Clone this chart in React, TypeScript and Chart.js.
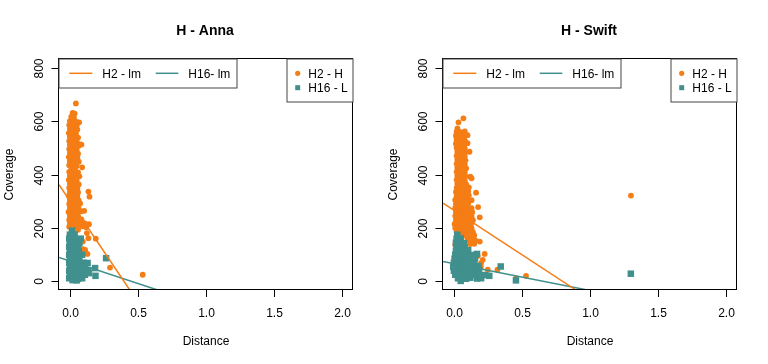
import React, { useEffect, useRef } from "react";
import { Chart, registerables } from "chart.js";
Chart.register(...registerables);

const ORANGE = "#F57D15";
const TEAL = "#40908E";
const FONT = '"Liberation Sans", Arial, Helvetica, sans-serif';

const xTicks = [0, 0.5, 1, 1.5, 2];
const xTickLabels = ["0.0", "0.5", "1.0", "1.5", "2.0"];
const yTicks = [0, 200, 400, 600, 800];
const yTickLabels = ["0", "200", "400", "600", "800"];
const panelTitles = ["H - Anna", "H - Swift"];
const lineLegendLabels = ["H2 - lm", "H16- lm"];
const pointLegendLabels = ["H2 - H", "H16 - L"];

// H - Anna : H2 - H points
const annaH2 = [
  [0.044, 666], [0.068, 595], [0.075, 513],
  [0.02, 630], [0.035, 628],
  [0.01, 615], [0.03, 612],
  [0.0, 600], [0.025, 602], [0.045, 598],
  [-0.005, 585], [0.02, 586], [0.05, 583],
  [0.0, 570], [0.03, 571], [0.055, 568],
  [-0.008, 555], [0.02, 556], [0.045, 553],
  [0.0, 540], [0.03, 541], [0.06, 538],
  [-0.005, 525], [0.025, 527], [0.05, 523],
  [0.0, 510], [0.03, 511], [0.065, 508], [0.085, 512],
  [-0.005, 495], [0.02, 496], [0.05, 493],
  [0.0, 480], [0.035, 481], [0.06, 478],
  [-0.008, 465], [0.025, 466], [0.055, 463],
  [0.0, 450], [0.03, 451], [0.065, 448],
  [-0.005, 435], [0.02, 437], [0.05, 433],
  [0.01, 425], [0.04, 424], [0.09, 427],
  [-0.005, 410], [0.025, 412], [0.06, 408],
  [0.0, 395], [0.035, 396], [0.07, 393],
  [-0.008, 380], [0.02, 381], [0.05, 378],
  [0.0, 365], [0.03, 366], [0.065, 363],
  [-0.005, 350], [0.02, 352], [0.055, 348],
  [0.0, 335], [0.035, 336], [0.06, 333],
  [-0.008, 320], [0.025, 321], [0.055, 318],
  [0.0, 305], [0.03, 306], [0.065, 303],
  [-0.005, 290], [0.02, 291], [0.05, 288], [0.075, 292],
  [0.0, 275], [0.035, 276], [0.065, 273],
  [-0.01, 260], [0.02, 261], [0.05, 258], [0.08, 262],
  [0.0, 245], [0.03, 246], [0.06, 243],
  [-0.005, 230], [0.025, 231], [0.055, 228], [0.085, 232],
  [0.0, 215], [0.03, 216], [0.07, 213], [0.11, 217], [0.14, 214],
  [-0.005, 205], [0.04, 204], [0.09, 206], [0.12, 203],
  [0.02, 195], [0.06, 193],
  [0.136, 336], [0.144, 317], [0.105, 264], [0.125, 181], [0.19, 160], [0.129, 103],
  [0.095, 121], [0.295, 52], [0.535, 25], [0.095, 149], [0.112, 118], [0.136, 162], [0.1, 218],
  [0.02, 180], [0.05, 150], [0.03, 100], [0.04, 60], [0.02, 30],
];

// H - Anna : H16 - L points
const annaH16 = [
  [0.015, 190],
  [0.0, 175], [0.035, 176],
  [-0.005, 160], [0.03, 161], [0.06, 158], [0.08, 160],
  [0.0, 145], [0.035, 146], [0.07, 143],
  [-0.005, 130], [0.03, 131], [0.06, 128],
  [0.0, 115], [0.035, 116], [0.065, 113],
  [-0.005, 100], [0.03, 101], [0.06, 98], [0.09, 100],
  [0.0, 85], [0.035, 86], [0.07, 83],
  [-0.005, 70], [0.03, 71], [0.065, 68], [0.1, 70], [0.13, 69],
  [0.0, 55], [0.035, 56], [0.07, 53], [0.105, 55],
  [-0.005, 40], [0.03, 41], [0.065, 38], [0.1, 40], [0.135, 42],
  [0.0, 25], [0.035, 26], [0.07, 23], [0.11, 25], [0.14, 31],
  [-0.005, 12], [0.03, 13], [0.06, 10], [0.09, 12],
  [0.02, 5], [0.05, 4],
  [0.266, 87], [0.185, 50], [0.188, 21],
];

// H - Swift : H2 - H points
const swiftH2 = [
  [0.07, 610], [0.034, 595], [0.026, 572],
  [0.02, 560], [0.05, 558], [0.08, 561],
  [0.015, 545], [0.045, 546], [0.075, 543], [0.1, 547],
  [0.02, 530], [0.05, 531], [0.08, 528],
  [0.015, 515], [0.045, 516], [0.075, 513], [0.1, 517],
  [0.02, 500], [0.05, 501], [0.08, 498],
  [0.025, 485], [0.055, 486], [0.085, 483], [0.115, 485],
  [0.02, 470], [0.05, 471], [0.08, 468],
  [0.025, 455], [0.055, 456], [0.085, 453],
  [0.02, 440], [0.05, 441], [0.08, 438],
  [0.025, 425], [0.055, 426], [0.09, 423],
  [0.02, 410], [0.05, 411], [0.08, 408],
  [0.025, 395], [0.055, 396], [0.085, 393], [0.12, 392],
  [0.02, 380], [0.05, 381], [0.08, 378], [0.13, 386],
  [0.025, 365], [0.055, 366], [0.09, 363],
  [0.02, 350], [0.05, 351], [0.08, 348], [0.11, 352],
  [0.015, 335], [0.045, 336], [0.075, 333], [0.105, 337], [0.163, 332],
  [0.02, 320], [0.05, 321], [0.08, 318], [0.11, 322],
  [0.01, 305], [0.04, 306], [0.07, 303], [0.1, 307], [0.13, 304],
  [0.015, 290], [0.045, 291], [0.075, 288], [0.105, 292],
  [0.01, 275], [0.04, 276], [0.07, 273], [0.1, 277], [0.13, 274], [0.178, 278],
  [0.015, 260], [0.045, 261], [0.075, 258], [0.105, 262], [0.135, 259],
  [0.01, 245], [0.04, 246], [0.07, 243], [0.1, 247], [0.13, 244], [0.19, 240],
  [0.015, 230], [0.045, 231], [0.075, 228], [0.105, 232], [0.14, 229],
  [0.005, 215], [0.035, 216], [0.065, 213], [0.095, 217], [0.125, 214],
  [0.01, 200], [0.04, 201], [0.07, 198], [0.1, 202], [0.13, 199],
  [0.02, 185], [0.05, 186], [0.08, 183], [0.11, 187], [0.14, 184],
  [0.06, 170], [0.09, 171], [0.12, 168], [0.15, 172],
  [0.1, 155], [0.13, 156], [0.16, 153],
  [0.12, 140], [0.15, 141], [0.19, 149],
  [0.01, 137], [0.226, 103], [0.212, 81], [0.2, 69], [0.249, 44], [0.32, 44],
  [0.456, 11], [0.53, 21], [1.301, 321], [0.198, 54], [0.175, 95],
];

// H - Swift : H16 - L points
const swiftH16 = [
  [0.025, 175],
  [0.02, 160], [0.05, 161],
  [0.015, 145], [0.045, 146], [0.075, 143],
  [0.02, 130], [0.05, 131], [0.08, 128],
  [0.015, 115], [0.045, 116], [0.075, 113], [0.105, 117],
  [0.01, 100], [0.04, 101], [0.07, 98], [0.1, 102], [0.13, 99], [0.17, 103],
  [0.005, 85], [0.035, 86], [0.065, 83], [0.095, 87], [0.125, 84], [0.155, 86],
  [0.0, 70], [0.03, 71], [0.06, 68], [0.09, 72], [0.12, 69], [0.15, 71],
  [-0.005, 55], [0.025, 56], [0.055, 53], [0.085, 57], [0.115, 54], [0.145, 56], [0.18, 58],
  [0.0, 40], [0.03, 41], [0.06, 38], [0.09, 42], [0.12, 39], [0.15, 41], [0.185, 43],
  [0.01, 25], [0.04, 26], [0.07, 23], [0.1, 27], [0.13, 24], [0.16, 26], [0.2, 22], [0.23, 24], [0.26, 21],
  [0.03, 12], [0.06, 13], [0.09, 10], [0.12, 14], [0.17, 11], [0.2, 12],
  [0.05, 2],
  [0.344, 56], [0.456, 4], [1.3, 29],
];

// Regression lines, endpoints (clipped by plot area)
const annaH2Line = [[-0.08, 362], [0.44, -32]];
const annaH16Line = [[-0.08, 90], [0.65, -33]];
const swiftH2Line = [[-0.08, 293], [0.9, -33]];
const swiftH16Line = [[-0.08, 75], [0.99, -33]];

const toXY = (arr: number[][]) => arr.map(([x, y]) => ({ x, y }));

function makePlugin(title: string) {
  return {
    id: "rbase",
    afterDatasetsDraw(chart: any) {
      const ctx = chart.ctx as CanvasRenderingContext2D;
      const { left, right, top, bottom } = chart.chartArea;
      const xs = chart.scales.x;
      const ys = chart.scales.y;
      ctx.save();
      ctx.strokeStyle = "#000";
      ctx.fillStyle = "#000";
      ctx.lineWidth = 1;
      // plot box
      ctx.strokeRect(left - 0.5, top - 0.5, right - left, bottom - top);
      // x axis ticks
      ctx.font = `12px ${FONT}`;
      ctx.textAlign = "center";
      ctx.textBaseline = "alphabetic";
      xTicks.forEach((v, i) => {
        const px = Math.round(xs.getPixelForValue(v)) + 0.5;
        ctx.beginPath();
        ctx.moveTo(px, bottom - 0.5);
        ctx.lineTo(px, bottom + 7);
        ctx.stroke();
        ctx.fillText(xTickLabels[i], px, bottom + 26.5);
      });
      // y axis ticks
      yTicks.forEach((v, i) => {
        const py = Math.round(ys.getPixelForValue(v)) + 0.5;
        ctx.beginPath();
        ctx.moveTo(left - 0.5, py);
        ctx.lineTo(left - 7.5, py);
        ctx.stroke();
        ctx.save();
        ctx.translate(left - 16.3, py);
        ctx.rotate(-Math.PI / 2);
        ctx.fillText(yTickLabels[i], 0, 0);
        ctx.restore();
      });
      // axis titles
      ctx.fillText("Distance", (left + right) / 2, bottom + 55);
      ctx.save();
      ctx.translate(13, (top + bottom) / 2);
      ctx.rotate(-Math.PI / 2);
      ctx.fillText("Coverage", 0, 0);
      ctx.restore();
      // main title
      ctx.font = `bold 14px ${FONT}`;
      ctx.fillText(title, (left + right) / 2 - 1, 35);

      // legend 1 (lines)
      ctx.font = `12px ${FONT}`;
      ctx.textAlign = "left";
      const l1x = left, l1y = top, l1w = 178, l1h = 29;
      ctx.fillStyle = "#fff";
      ctx.fillRect(l1x, l1y, l1w, l1h);
      ctx.strokeStyle = "#444";
      ctx.strokeRect(l1x, l1y, l1w, l1h);
      ctx.lineWidth = 1.5;
      ctx.strokeStyle = ORANGE;
      ctx.beginPath();
      ctx.moveTo(l1x + 10.3, l1y + 14.3);
      ctx.lineTo(l1x + 33.3, l1y + 14.3);
      ctx.stroke();
      ctx.strokeStyle = TEAL;
      ctx.beginPath();
      ctx.moveTo(l1x + 96.7, l1y + 14.3);
      ctx.lineTo(l1x + 119.3, l1y + 14.3);
      ctx.stroke();
      ctx.fillStyle = "#000";
      ctx.fillText(lineLegendLabels[0], l1x + 43.3, l1y + 19);
      ctx.fillText(lineLegendLabels[1], l1x + 129.3, l1y + 19);

      // legend 2 (points)
      ctx.lineWidth = 1;
      const l2w = 66, l2h = 43;
      const l2x = right - l2w, l2y = top;
      ctx.fillStyle = "#fff";
      ctx.fillRect(l2x, l2y, l2w, l2h);
      ctx.strokeStyle = "#444";
      ctx.strokeRect(l2x, l2y, l2w, l2h);
      ctx.fillStyle = ORANGE;
      ctx.beginPath();
      ctx.arc(l2x + 10.7, l2y + 14.3, 2.6, 0, Math.PI * 2);
      ctx.fill();
      ctx.fillStyle = TEAL;
      ctx.fillRect(l2x + 10.7 - 2.5, l2y + 28.7 - 2.5, 5, 5);
      ctx.fillStyle = "#000";
      ctx.fillText(pointLegendLabels[0], l2x + 21.3, l2y + 18.6);
      ctx.fillText(pointLegendLabels[1], l2x + 21.3, l2y + 33);
      ctx.restore();
    },
  };
}

function Panel({ title, h2, h16, h2Line, h16Line }: any) {
  const ref = useRef<HTMLCanvasElement>(null);
  useEffect(() => {
    if (!ref.current) return;
    const chart = new Chart(ref.current, {
      type: "scatter",
      data: {
        datasets: [
          {
            label: lineLegendLabels[0],
            data: toXY(h2Line),
            showLine: true,
            borderColor: ORANGE,
            borderWidth: 1.5,
            pointRadius: 0,
            order: 0,
          },
          {
            label: lineLegendLabels[1],
            data: toXY(h16Line),
            showLine: true,
            borderColor: TEAL,
            borderWidth: 1.5,
            pointRadius: 0,
            order: 0,
          },
          {
            label: pointLegendLabels[1],
            data: toXY(h16),
            pointStyle: "rect",
            pointRadius: 4.6,
            backgroundColor: TEAL,
            borderWidth: 0,
            order: 1,
          },
          {
            label: pointLegendLabels[0],
            data: toXY(h2),
            pointStyle: "circle",
            pointRadius: 2.9,
            backgroundColor: ORANGE,
            borderWidth: 0,
            order: 2,
          },
        ],
      } as any,
      options: {
        responsive: false,
        animation: false,
        devicePixelRatio: 1,
        layout: { padding: { left: 59, right: 31, top: 59, bottom: 74 } },
        scales: {
          x: { type: "linear", min: -0.08, max: 2.08, display: false },
          y: { type: "linear", min: -32, max: 832, display: false },
        },
        plugins: {
          legend: { display: false },
          tooltip: { enabled: false },
          title: { display: false },
        },
        events: [],
      } as any,
      plugins: [makePlugin(title)],
    });
    return () => chart.destroy();
  }, []);
  return <canvas ref={ref} width={384} height={364} style={{ display: "block", width: 384, height: 364 }} />;
}

export default function App() {
  return (
    <div style={{ position: "absolute", left: 0, top: 0, width: 768, height: 364, display: "flex", background: "#fff" }}>
      <Panel title={panelTitles[0]} h2={annaH2} h16={annaH16} h2Line={annaH2Line} h16Line={annaH16Line} />
      <Panel title={panelTitles[1]} h2={swiftH2} h16={swiftH16} h2Line={swiftH2Line} h16Line={swiftH16Line} />
    </div>
  );
}
